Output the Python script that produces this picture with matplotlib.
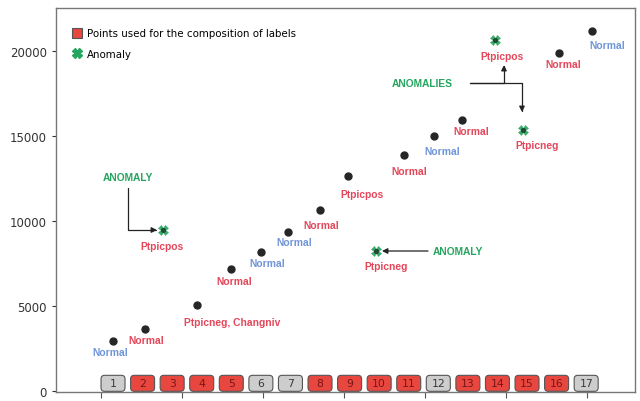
import numpy as np
import matplotlib.pyplot as plt
from matplotlib.lines import Line2D
from matplotlib.patches import FancyBboxPatch

# data
x_pos = [1.5, 5.4, 7.7, 11.9, 16.0, 19.8, 23.1, 27.0, 30.5, 34.0,
         37.4, 41.1, 44.6, 48.6, 52.1, 56.5, 60.6]
values = [2950, 3660, 9500, 5070, 7200, 8200, 9380, 10680, 12680, 8260,
          13860, 14990, 15930, 20650, 15340, 19880, 21180]
labels = ["Normal", "Normal", "Ptpicpos", "Ptpicneg, Changniv", "Normal",
          "Normal", "Normal", "Normal", "Ptpicpos", "Ptpicneg", "Normal",
          "Normal", "Normal", "Ptpicpos", "Ptpicneg", "Normal", "Normal"]
used_for_labels = [False, True, True, True, True, False, False, True, True,
                   True, True, False, True, True, True, True, False]
anomaly = [False, False, True, False, False, False, False, False, False,
           True, False, False, False, True, True, False, False]
box_numbers = [str(i) for i in range(1, 18)]

# label offsets (pixels, relative to each point)
label_dx = [-3, 1, -1, 35, 4, 6, 6, 2, 14, 10, 5, 8, 9, 7, 14, 5, 15]
label_dy = [-11, -11, -16, -17, -12, -11, -10, -15, -18, -15, -16, -15, -11, -16, -15, -11, -14]

RED_TXT = "#e4465a"
BLUE_TXT = "#6f95d8"
GREEN = "#25a55f"
BOX_RED = "#e8473f"
BOX_GRAY = "#cdcdcd"

fig = plt.figure(figsize=(6.4, 4.02), dpi=100)
ax = fig.add_axes([56 / 640, 9 / 402, 579 / 640, 384 / 402])

ax.set_xlim(-5.56, 65.93)
ax.set_ylim(-30, 22520)

lab_font = dict(family="Liberation Sans", weight="bold", size=7.4)

for i in range(len(x_pos)):
    if anomaly[i]:
        ax.plot(x_pos[i], values[i], "X", color=GREEN, ms=7, mew=0.4, mec=GREEN,
                alpha=0.9, zorder=3)
        ax.plot(x_pos[i], values[i], "o", color="#1f3a2a", ms=2.8, alpha=0.8, zorder=4)
    else:
        ax.plot(x_pos[i], values[i], "o", color="#262626", ms=5, zorder=3)
    col = RED_TXT if used_for_labels[i] else BLUE_TXT
    ax.annotate(labels[i], (x_pos[i], values[i]), xytext=(label_dx[i], label_dy[i]),
                textcoords="offset pixels", ha="center", va="center", color=col,
                **lab_font)

# numbered boxes along the bottom
box_x = np.linspace(1.48, 59.9, len(box_numbers))
bw = 24 / 8.1
bh = 16 * 1000 / 17.03
aspect = (1000 / 17.03) / (1 / 8.1)
for bx, num, used in zip(box_x, box_numbers, used_for_labels):
    fc = BOX_RED if used else BOX_GRAY
    tc = "#7a1515" if used else "#3a3a3a"
    p = FancyBboxPatch((bx - bw / 2, 10), bw, bh,
                       boxstyle="round,pad=0,rounding_size=0.45",
                       mutation_aspect=aspect, fc=fc, ec="#555555", lw=0.8,
                       zorder=5, clip_on=False)
    ax.add_patch(p)
    ax.text(bx, 10 + bh / 2, num, ha="center", va="center", fontsize=7.8,
            color=tc, zorder=6)


def px(xp, yp):
    # pixel position in the reference -> data coordinates
    return ((xp - 101) / 8.1, (392.5 - yp) / 17.03 * 1000)


arrow = dict(arrowstyle="-|>", color="#222222", lw=0.9, mutation_scale=8,
             shrinkA=0, shrinkB=0)

# single anomaly on the left
ax.text(*px(128, 178), "ANOMALY", ha="center", va="center", color=GREEN, **lab_font)
ax.annotate("", xy=px(157, 231), xytext=px(128, 189),
            arrowprops=dict(arrow, connectionstyle="angle,angleA=90,angleB=0,rad=0"))

# anomaly in the middle
ax.text(*px(433, 252), "ANOMALY", ha="left", va="center", color=GREEN, **lab_font)
ax.annotate("", xy=px(382, 252), xytext=px(428, 252), arrowprops=arrow)

# two anomalies on the right
ax.text(*px(422, 84), "ANOMALIES", ha="center", va="center", color=GREEN, **lab_font)
ax.annotate("", xy=px(504, 66), xytext=px(470, 84),
            arrowprops=dict(arrow, connectionstyle="angle,angleA=0,angleB=90,rad=0"))
ax.annotate("", xy=px(522, 113), xytext=px(470, 84),
            arrowprops=dict(arrow, connectionstyle="angle,angleA=0,angleB=90,rad=0"))

ax.set_xticks([0, 10, 20, 30, 40, 50, 60])
ax.set_xticklabels([])
ax.set_yticks([0, 5000, 10000, 15000, 20000])
ax.tick_params(axis="y", labelsize=8.5, colors="#333333", length=3)
ax.tick_params(axis="x", length=4, colors="#555555")
for s in ax.spines.values():
    s.set_color("#777777")
    s.set_linewidth(1.0)

handles = [
    Line2D([], [], marker="s", ls="", ms=7, mfc=BOX_RED, mec="#555555", mew=0.8),
    Line2D([], [], marker="X", ls="", ms=7, color=GREEN),
]
ax.legend(handles, ["Points used for the composition of labels", "Anomaly"],
          loc="upper left", bbox_to_anchor=(8 / 579, 1 - 11 / 384),
          frameon=False, fontsize=7.4, handlelength=0.8,
          handletextpad=0.5, labelspacing=1.0)

fig.savefig("out.png", dpi=100)
